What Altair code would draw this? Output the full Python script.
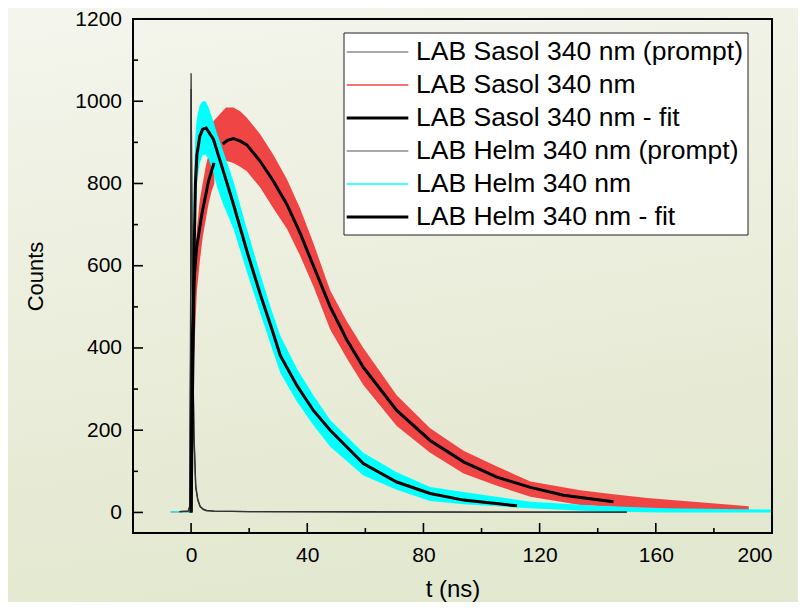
import altair as alt
import pandas as pd

FONT = "Liberation Sans"

# ---------------- names / legend ----------------
S_PROMPT = "LAB Sasol 340 nm (prompt)"
S_DATA = "LAB Sasol 340 nm"
S_FIT = "LAB Sasol 340 nm - fit"
H_PROMPT = "LAB Helm 340 nm (prompt)"
H_DATA = "LAB Helm 340 nm"
H_FIT = "LAB Helm 340 nm - fit"
LEGEND_NAMES = [S_PROMPT, S_DATA, S_FIT, H_PROMPT, H_DATA, H_FIT]
LEGEND_COLORS = ["#555555", "#f04545", "#000000", "#555555", "#00ffff", "#000000"]
LEGEND_WIDTHS = [1.2, 1.5, 3, 1.2, 1.5, 3]

# ---------------- axis ticks ----------------
X_MAJOR = [0, 40, 80, 120, 160, 200]
X_MINOR = [20, 60, 100, 140, 180]
Y_MAJOR = [0, 200, 400, 600, 800, 1000, 1200]
Y_MINOR = [100, 300, 500, 700, 900, 1100]

# ---------------- prompts ----------------
prompt_t = [-4, -1, -0.5, -0.2, 0, 0.3, 0.6, 1.0, 1.6, 2.3, 3.1, 4.2, 5.4, 8, 20, 60, 100, 150]
s_prompt_c = [2, 3, 15, 400, 1068, 700, 380, 190, 65, 32, 15, 8, 5, 3, 2, 2, 1, 1]
h_prompt_c = [2, 3, 12, 380, 1030, 680, 360, 180, 60, 30, 14, 7, 4, 3, 2, 1, 1, 1]

# ---------------- fits ----------------
h_fit_t = [0, 0.5, 0.8, 1.1, 1.5, 2.0, 3.0, 4.0, 5.2, 7.7, 11.1, 14.6, 19.2, 23.8, 27.8,
           30.7, 36.4, 42.1, 47.9, 59.3, 70.8, 82.3, 93.8, 112.2]
h_fit_c = [0, 300, 450, 650, 800, 870, 915, 932, 935, 907, 830, 749, 636, 531, 446,
           382, 309, 248, 200, 119, 74, 46, 30, 16]

s_fit1_t = [0, 0.2, 0.5, 1.0, 1.9, 3.7, 6.0, 7.9]
s_fit1_c = [0, 200, 440, 563, 644, 725, 806, 850]
s_fit2_t = [10.9, 12.5, 14.6, 17, 19.2, 23.8, 28.3, 33.0, 37.5, 42.1, 47.9, 53.6, 59.3,
            70.8, 82.3, 93.8, 105.3, 116.8, 128.2, 145.4]
s_fit2_c = [896, 905, 909, 903, 894, 854, 806, 749, 680, 600, 500, 420, 353,
            248, 175, 123, 86, 61, 42, 26]

# ---------------- measured data (noise envelopes) ----------------
s_rise_t = [-7, -1, 0, 0.5, 1, 2, 3, 4, 5, 6, 7, 8]
s_rise_lo = [0, 0, 0, 250, 380, 540, 610, 670, 710, 750, 780, 800]
s_rise_hi = [3, 4, 30, 460, 580, 690, 760, 800, 840, 870, 890, 900]
s_main_t = [7.5, 9.4, 12, 14.6, 17, 19.2, 23.8, 28.3, 33.0, 37.5, 42.1, 47.9, 53.6, 59.3,
            70.8, 82.3, 93.8, 105.3, 116.8, 134, 145.4, 157, 175, 192]
s_main_lo = [850, 850, 855, 850, 840, 830, 790, 740, 690, 625, 550, 445, 375, 310,
             210, 145, 95, 65, 38, 18, 14, 10, 6, 4]
s_main_hi = [950, 965, 985, 985, 975, 960, 920, 870, 810, 740, 655, 540, 465, 400,
             285, 205, 150, 112, 75, 54, 44, 35, 25, 15]

h_t = [-7, -1, 0, 0.5, 1.0, 1.5, 2, 3, 4, 5, 6, 7.5, 9, 11, 14.6, 19.2, 23.8, 27.8, 30.7,
       36.4, 42.1, 47.9, 59.3, 70.8, 82.3, 93.8, 116.8, 140, 163, 200]
h_lo = [0, 0, 0, 300, 560, 720, 800, 850, 870, 870, 860, 830, 790, 750, 690, 585, 485, 400,
        340, 270, 212, 160, 90, 55, 28, 20, 10, 2, 0, 0]
h_hi = [3, 4, 30, 600, 820, 920, 960, 990, 1000, 1000, 985, 955, 920, 880, 805, 690, 580,
        490, 430, 350, 285, 225, 145, 98, 62, 50, 26, 16, 10, 7]

# ---------------- tables ----------------
red_df = pd.concat([
    pd.DataFrame({"t": s_rise_t, "lo": s_rise_lo, "hi": s_rise_hi, "seg": "a"}),
    pd.DataFrame({"t": s_main_t, "lo": s_main_lo, "hi": s_main_hi, "seg": "b"}),
])
cyan_df = pd.DataFrame({"t": h_t, "lo": h_lo, "hi": h_hi, "seg": "a"})
prompt_df = pd.concat([
    pd.DataFrame({"t": prompt_t, "c": s_prompt_c, "seg": S_PROMPT}),
    pd.DataFrame({"t": prompt_t, "c": h_prompt_c, "seg": H_PROMPT}),
])
fit_df = pd.concat([
    pd.DataFrame({"t": s_fit1_t, "c": s_fit1_c, "seg": "sasol-1"}),
    pd.DataFrame({"t": s_fit2_t, "c": s_fit2_c, "seg": "sasol-2"}),
    pd.DataFrame({"t": h_fit_t, "c": h_fit_c, "seg": "helm"}),
])

W, H = 639, 514
PAD = {"left": 125, "top": 11, "right": 26, "bottom": 69}
xs = alt.Scale(domain=[-20, 200], nice=False, zero=False)
ys = alt.Scale(domain=[-50, 1200], nice=False, zero=False)
dummy = pd.DataFrame({"k": [0]})

x_axis = alt.Axis(values=X_MAJOR, format="d", ticks=False, tickSize=0, domain=False, grid=False,
                  labelFontSize=21, labelPadding=11, labelColor="black", labelFont=FONT,
                  title="t (ns)", titleFontSize=24, titleFont=FONT, titleFontWeight="normal",
                  titleColor="black", titleX=W / 2, titleY=56, titleBaseline="middle",
                  titleAlign="center", zindex=5)
y_axis = alt.Axis(values=Y_MAJOR, format="d", ticks=False, tickSize=0, domain=False, grid=False,
                  labelFontSize=21, labelPadding=11.5, labelColor="black", labelFont=FONT,
                  title="Counts", titleFontSize=22, titleFont=FONT, titleFontWeight="normal",
                  titleColor="black", titleX=-98, titleY=H / 2, titleBaseline="middle",
                  titleAlign="center", titleAngle=-90, zindex=5)


def X(field):
    return alt.X(field, scale=xs, axis=x_axis)


def Y(field):
    return alt.Y(field, scale=ys, axis=y_axis)


bg = alt.Chart(dummy).mark_rect(
    clip=False,
    fill=alt.LinearGradient(
        gradient="linear",
        stops=[alt.GradientStop(color="#f4f5ed", offset=0),
               alt.GradientStop(color="#eaedda", offset=0.6),
               alt.GradientStop(color="#e3e8d0", offset=1)],
        x1=0, x2=0.2, y1=0, y2=1),
).encode(x=alt.value(-PAD["left"]), x2=alt.value(W + PAD["right"]),
         y=alt.value(-PAD["top"]), y2=alt.value(H + PAD["bottom"]))

red = alt.Chart(red_df).mark_area(color="#f04545", clip=True).encode(
    x=X("t:Q"), y=Y("lo:Q"), y2="hi:Q", detail="seg:N")
cyan = alt.Chart(cyan_df).mark_area(color="#00ffff", clip=True).encode(
    x=X("t:Q"), y=Y("lo:Q"), y2="hi:Q", detail="seg:N")
prompts = alt.Chart(prompt_df).mark_line(clip=True, color="#333333", strokeWidth=1.3).encode(
    x=X("t:Q"), y=Y("c:Q"), detail="seg:N")
fits = alt.Chart(fit_df).mark_line(clip=True, color="black", strokeWidth=3).encode(
    x=X("t:Q"), y=Y("c:Q"), detail="seg:N")

xmaj = alt.Chart(pd.DataFrame({"t": X_MAJOR})).mark_rule(color="black", strokeWidth=1.6).encode(
    x=X("t:Q"), y=alt.value(H), y2=alt.value(H - 10))
xmin = alt.Chart(pd.DataFrame({"t": X_MINOR})).mark_rule(color="black", strokeWidth=1.6).encode(
    x=X("t:Q"), y=alt.value(H), y2=alt.value(H - 5))
ymaj = alt.Chart(pd.DataFrame({"c": Y_MAJOR})).mark_rule(color="black", strokeWidth=1.6).encode(
    y=Y("c:Q"), x=alt.value(0), x2=alt.value(10))
ymin = alt.Chart(pd.DataFrame({"c": Y_MINOR})).mark_rule(color="black", strokeWidth=1.6).encode(
    y=Y("c:Q"), x=alt.value(0), x2=alt.value(5))

frame = alt.Chart(dummy).mark_rect(filled=False, stroke="black", strokeWidth=2).encode(
    x=alt.value(0), x2=alt.value(W), y=alt.value(0), y2=alt.value(H))

legend_box = alt.Chart(dummy).mark_rect(fill="white", stroke="#222222", strokeWidth=1).encode(
    x=alt.value(211), x2=alt.value(615), y=alt.value(14), y2=alt.value(216))

legend_layers = [legend_box]
for i, (name, col, wd) in enumerate(zip(LEGEND_NAMES, LEGEND_COLORS, LEGEND_WIDTHS)):
    yy = 33 + 33 * i
    legend_layers.append(alt.Chart(dummy).mark_rule(color=col, strokeWidth=wd).encode(
        x=alt.value(213.7), x2=alt.value(275.3), y=alt.value(yy)))
    legend_layers.append(alt.Chart(dummy).mark_text(
        text=name, align="left", baseline="middle", fontSize=26.5, font=FONT,
        color="black").encode(x=alt.value(283), y=alt.value(yy)))

chart = alt.layer(
    bg, red, cyan, prompts, fits, xmaj, xmin, ymaj, ymin, frame, *legend_layers
).properties(
    width=W, height=H, padding=PAD,
    autosize=alt.AutoSizeParams(type="none"),
    background="#eceee0",
).configure_view(stroke=None)

chart.save("out.html", embed_options={"renderer": "svg", "actions": False})
